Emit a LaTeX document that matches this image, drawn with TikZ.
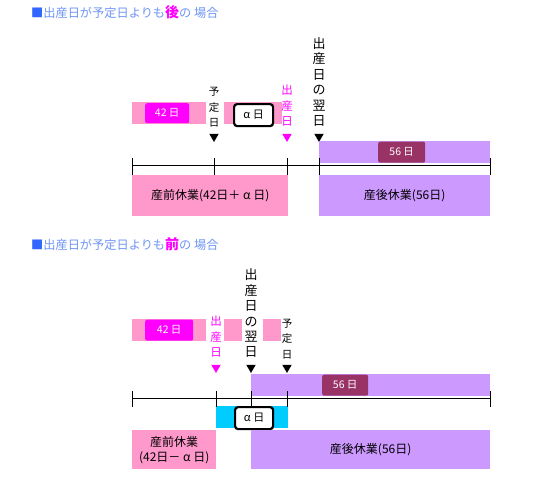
\documentclass[tikz,border=0pt]{standalone}
\usepackage{fontspec}
\newfontfamily\jp{Noto Sans CJK JP}
\usetikzlibrary{shapes.geometric}
\definecolor{pinkbar}{HTML}{FF99CC}
\definecolor{mag}{HTML}{FF00FF}
\definecolor{purp}{HTML}{CC99FF}
\definecolor{maroonbox}{HTML}{993366}
\definecolor{cyanbar}{HTML}{00CCFF}
\definecolor{titleblue}{HTML}{6F95F5}
\definecolor{sqblue}{HTML}{3366FF}
\tikzset{
  bar/.style={anchor=north west, inner sep=0pt, draw=none},
  pinkbox/.style={bar, fill=pinkbar},
  purpbox/.style={bar, fill=purp},
  cyanbox/.style={bar, fill=cyanbar},
  daybox/.style={anchor=north west, inner sep=0pt, rounded corners=2pt, text=white, font=\jp\fontsize{10.5}{12}\selectfont},
  alphabox/.style={anchor=north west, inner sep=0pt, rounded corners=3pt, draw=black, line width=2.2pt, fill=white, font=\jp\fontsize{11}{12}\selectfont},
  barlabel/.style={font=\jp\fontsize{12}{15}\selectfont, align=center, inner sep=0pt},
  vsmall/.style={font=\jp\fontsize{10.5}{15.5}\selectfont, align=center, inner sep=0pt},
  vmid/.style={font=\jp\fontsize{11.5}{15.5}\selectfont, align=center, inner sep=0pt, text=mag},
  vbig/.style={font=\jp\fontsize{13}{15.4}\selectfont, align=center, inner sep=0pt},
  tri/.style={regular polygon, regular polygon sides=3, shape border rotate=180, inner sep=0pt, minimum size=11pt, fill=black, draw=none},
  tick/.style={line width=0.8pt},
  axis/.style={line width=0.8pt},
  title/.style={anchor=west, inner sep=0pt, font=\jp\fontsize{12.2}{13}\selectfont, text=titleblue}
}
\begin{document}
\begin{tikzpicture}[x=1pt,y=-1pt]
\useasboundingbox (0,0) rectangle (542,488);
\fill[white] (0,0) rectangle (542,488);

% ---------- Title 1 ----------
\node[title] (title1) at (31,12) {\textcolor{sqblue}{■}出産日が予定日よりも\textcolor{mag}{\fontsize{14}{14}\selectfont\bfseries 後}の 場合};

% ---------- Diagram 1 ----------
\node[pinkbox, minimum width=74pt, minimum height=22pt] (a42bar) at (132,102) {};
\node[daybox, fill=mag, minimum width=44pt, minimum height=20pt] (a42) at (145,103) {42 日};
\node[pinkbox, minimum width=58pt, minimum height=22pt] (aalbar) at (224,102) {};
\node[alphabox, minimum width=39pt, minimum height=22pt] (aal) at (233,103) {α 日};

\node[vsmall] (ayotei) at (214,107.5) {予\\定\\日};
\node[tri] (ayoteitri) at (214,136.5) {};
\node[vmid] (ashus) at (287,106) {出\\産\\日};
\node[tri, fill=mag] (ashustri) at (287,136.5) {};
\node[vbig] (ayoku) at (319,82) {出\\産\\日\\の\\翌\\日};
\node[tri] (ayokutri) at (319,136.5) {};

\node[purpbox, minimum width=171pt, minimum height=22pt] (a56bar) at (319,141) {};
\node[daybox, fill=maroonbox, minimum width=47pt, minimum height=21pt] (a56) at (378,141.5) {56 日};

\draw[axis] (132,165) -- (490,165);
\foreach \x in {132,214,287,319,490} \draw[tick] (\x,158) -- (\x,175);

\node[pinkbox, minimum width=156pt, minimum height=41pt] (amae) at (132,175) {};
\node[barlabel] (amaet) at (amae.center) {産前休業(42日＋ α 日)};
\node[purpbox, minimum width=171pt, minimum height=41pt] (aato) at (319,175) {};
\node[barlabel] (aatot) at (aato.center) {産後休業(56日)};

% ---------- Title 2 ----------
\node[title] (title2) at (31,244) {\textcolor{sqblue}{■}出産日が予定日よりも\textcolor{mag}{\fontsize{14}{14}\selectfont\bfseries 前}の 場合};

% ---------- Diagram 2 ----------
\node[pinkbox, minimum width=74pt, minimum height=22pt] (b42bar) at (132,319) {};
\node[daybox, fill=mag, minimum width=48pt, minimum height=21pt] (b42) at (145,319.5) {42 日};
\node[pinkbox, minimum width=18pt, minimum height=22pt] (bsq1) at (224,319) {};
\node[pinkbox, minimum width=18pt, minimum height=22pt] (bsq2) at (263,319) {};

\node[vmid] (bshus) at (216,337) {出\\産\\日};
\node[tri, fill=mag] (bshustri) at (216,367.5) {};
\node[vbig] (byoku) at (251,313.5) {出\\産\\日\\の\\翌\\日};
\node[tri] (byokutri) at (251,367.5) {};
\node[vsmall] (byotei) at (287,339) {予\\定\\日};
\node[tri] (byoteitri) at (287,367.5) {};

\node[purpbox, minimum width=239pt, minimum height=22pt] (b56bar) at (251,374) {};
\node[daybox, fill=maroonbox, minimum width=46pt, minimum height=21pt] (b56) at (322,374.5) {56 日};

\node[cyanbox, minimum width=72pt, minimum height=22pt] (bcyan) at (216,406) {};

\draw[axis] (132,398) -- (490,398);
\foreach \x in {132,216,251,287,490} \draw[tick] (\x,391) -- (\x,407);

\node[alphabox, minimum width=38pt, minimum height=22pt] (bal) at (234,406) {α 日};

\node[pinkbox, minimum width=84pt, minimum height=39pt] (bmae) at (132,430) {};
\node[barlabel] (bmaet) at (bmae.center) {産前休業\\(42日－ α 日)};
\node[purpbox, minimum width=239pt, minimum height=39pt] (bato) at (251,430) {};
\node[barlabel] (batot) at (bato.center) {産後休業(56日)};
\end{tikzpicture}
\end{document}
